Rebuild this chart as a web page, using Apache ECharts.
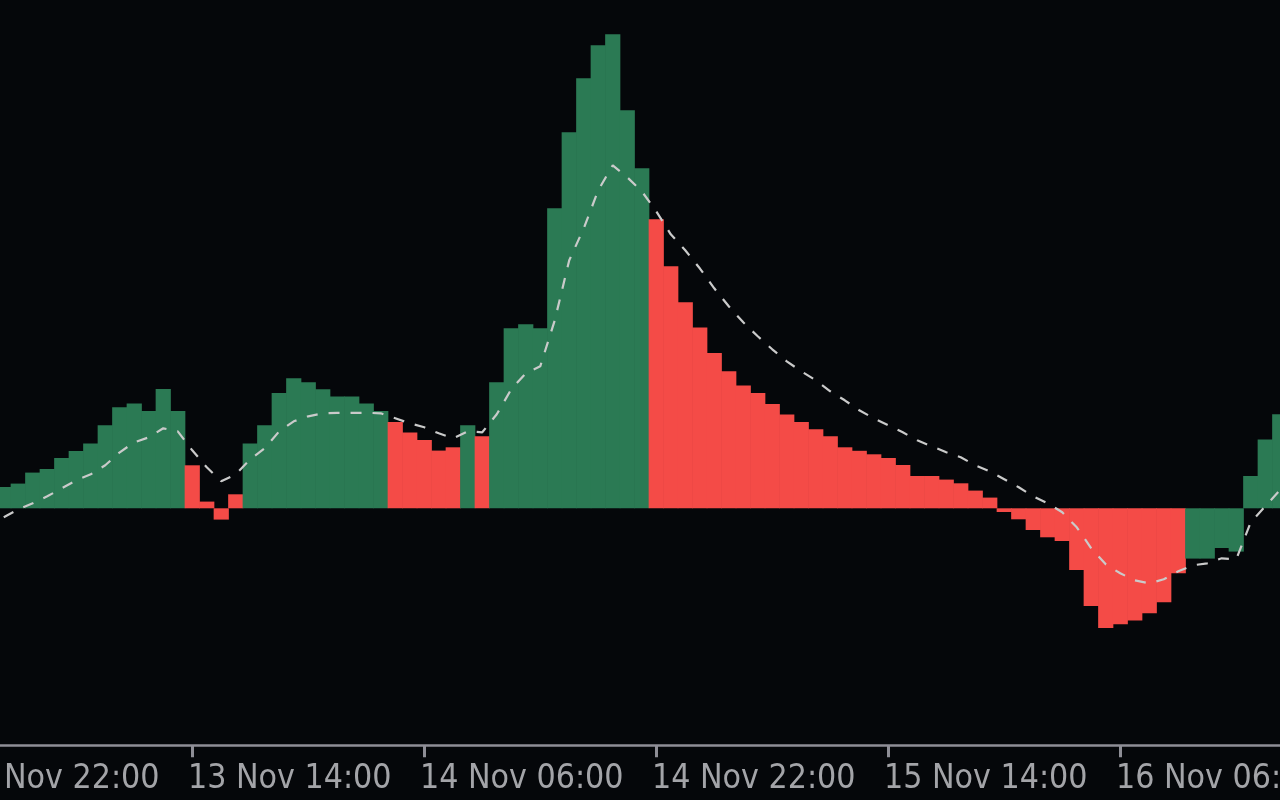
<!DOCTYPE html>
<html>
<head>
<meta charset="utf-8">
<script src="https://cdn.jsdelivr.net/npm/echarts@6/dist/echarts.min.js"></script>
<style>
html,body{margin:0;padding:0;background:#05070a;overflow:hidden;width:1280px;height:800px;}
#chart{position:absolute;left:-60px;top:0;width:1347px;height:800px;}
</style>
</head>
<body>
<div id="chart"></div>
<script>
// ---- time axis ----
const monthName = 'Nov';
const firstSlotDay = 12;      // first (off-screen) label slot: 12 Nov 22:00
const firstSlotHour = 22;
const leadingSlots = 3;       // hourly slots before the first visible bar
const labelStepHours = 16;    // a time label every 16 bars

// ---- histogram (MACD main) values, one per hourly bar ----
const histogram = [
  21.3, 24.7, 35.7, 39.3, 50.3, 57.3, 64.7, 83, 101, 104.7,
  97.3, 119.3, 97.3, 43, 6.7, -11.3, 14, 64.7, 83, 115.3,
  130, 126, 119, 111.7, 111.7, 104.7, 97.3, 86.3, 75.7, 68.3,
  57.7, 61, 83, 72, 126, 180, 184, 180, 300, 376,
  430, 463, 474, 398, 340, 289, 242, 206, 180.7, 155.3,
  137, 122.7, 115.3, 104.3, 93.7, 86.3, 79, 72, 61, 57.5,
  54, 50.3, 43.3, 32.3, 32.3, 28.7, 25, 17.7, 10.7, -3.7,
  -11, -21.7, -29, -32.7, -61.7, -97.7, -119.7, -116, -112.3, -105,
  -94, -65, -50.3, -50.3, -39.7, -43.3, 32.3, 68.7, 94
];
// G = histogram above signal (green), R = below (red)
const barState = [
  'G','G','G','G','G','G','G','G','G','G',
  'G','G','G','R','R','R','R','G','G','G',
  'G','G','G','G','G','G','G','R','R','R',
  'R','R','G','R','G','G','G','G','G','G',
  'G','G','G','G','G','R','R','R','R','R',
  'R','R','R','R','R','R','R','R','R','R',
  'R','R','R','R','R','R','R','R','R','R',
  'R','R','R','R','R','R','R','R','R','R',
  'R','R','G','G','G','G','G','G','G'
];
// ---- signal line values ----
const signal = [
  -9, -1, 5, 12, 20, 28, 34, 43, 56, 66,
  71, 80, 77, 58, 41, 27, 34, 49, 60, 77,
  87, 92, 95, 95.5, 95.5, 95.5, 95, 90, 85, 81,
  75, 70, 77, 76, 94, 119, 135, 142, 188, 248,
  280, 318, 343, 331, 317, 297, 274, 258, 240, 220,
  202, 186, 172, 159, 147, 137, 128, 117, 108, 98,
  90, 83, 76, 68, 62, 56, 51, 43, 37, 29,
  21, 12, 5, -4, -19, -40, -56, -65, -72, -75,
  -71, -63, -57, -55, -50, -51, -14, 2, 18
];

const GREEN = '#2b7a54';
const RED = '#f44b47';

function pad2(n){ return (n < 10 ? '0' : '') + n; }
const totalSlots = leadingSlots + histogram.length;
const categories = [];
for (let i = 0; i < totalSlots; i++) {
  const h = firstSlotHour + i;
  categories.push((firstSlotDay + Math.floor(h / 24)) + ' ' + monthName + ' ' + pad2(h % 24) + ':00');
}
const lead = new Array(leadingSlots).fill(null);
const barData = lead.concat(histogram.map((v, i) => ({
  value: v,
  itemStyle: { color: barState[i] === 'G' ? GREEN : RED }
})));
const lineData = lead.concat(signal);
const showSlot = (idx) => idx % labelStepHours === 0;

const chart = echarts.init(document.getElementById('chart'), null, { renderer: 'canvas' });
chart.setOption({
  backgroundColor: '#05070a',
  animation: false,
  grid: [
    { left: 13, right: 0, top: 0, bottom: 54.7, containLabel: false, outerBoundsMode: 'none' },
    { left: 8.7, right: 4.3, top: 0, bottom: 54.7, containLabel: false, outerBoundsMode: 'none' }
  ],
  xAxis: [
    {
      type: 'category', gridIndex: 0, data: categories, boundaryGap: true,
      axisLine: { show: true, onZero: false, lineStyle: { color: '#8e8e96', width: 2.5 } },
      axisTick: { show: true, alignWithLabel: true, interval: (i) => showSlot(i), length: 12,
                  lineStyle: { color: '#8e8e96', width: 3 } },
      axisLabel: { show: false },
      splitLine: { show: false }
    },
    {
      type: 'category', gridIndex: 1, data: categories, boundaryGap: true,
      axisLine: { show: false }, axisTick: { show: false }, splitLine: { show: false },
      axisLabel: {
        show: true, interval: (i) => showSlot(i), align: 'left', margin: 17,
        color: '#a3a4a8', fontSize: 33.6,
        fontFamily: "'DejaVu Sans Condensed', 'DejaVu Sans', sans-serif"
      }
    }
  ],
  yAxis: [
    { type: 'value', gridIndex: 0, min: -237, max: 508.3, show: false },
    { type: 'value', gridIndex: 1, min: -237, max: 508.3, show: false }
  ],
  series: [
    {
      type: 'bar', xAxisIndex: 0, yAxisIndex: 0, data: barData,
      barWidth: 15.2, barGap: '-100%', z: 2
    },
    {
      type: 'line', xAxisIndex: 0, yAxisIndex: 0, data: lineData,
      symbol: 'none', smooth: false, z: 3,
      lineStyle: { color: '#cacaca', width: 2.2, type: [11, 11] }
    }
  ]
});
</script>
</body>
</html>
